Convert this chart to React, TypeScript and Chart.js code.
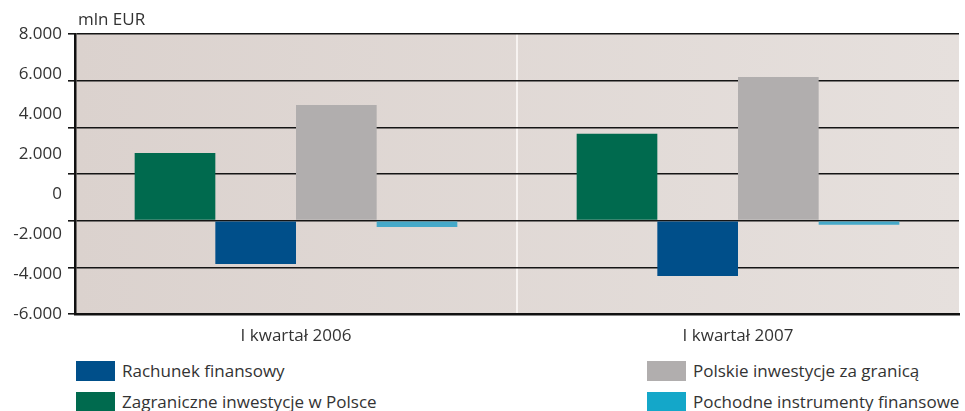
import React, { useEffect, useRef } from "react";
import { Chart, registerables } from "chart.js";

Chart.register(...registerables);

const categories = ["I kwartał 2006", "I kwartał 2007"];
const seriesNames = [
  "Zagraniczne inwestycje w Polsce",
  "Rachunek finansowy",
  "Polskie inwestycje za granicą",
  "Pochodne instrumenty finansowe",
];
const zagraniczne = [2900, 3720];
const rachunek = [-1860, -2370];
const polskie = [4960, 6160];
const pochodne = [-270, -180];
const seriesColors = ["#006a4e", "#004f8a", "#b1aeae", "#45a9c9"];
const legendColors = ["#004f8a", "#006a4e", "#b1aeae", "#14a7c9"];
const tickLabelValues = [8000, 6000, 4000, 2000, 0, -2000, -4000, -6000];
const unitLabel = "mln EUR";

const FONT = "'Open Sans', sans-serif";

const fmt = (v: number) => {
  if (v === 0) return "0";
  const s = Math.abs(v).toString().replace(/\B(?=(\d{3})+(?!\d))/g, ".");
  return (v < 0 ? "-" : "") + s;
};

const bgPlugin = {
  id: "bgPlugin",
  beforeDraw(chart: any) {
    const { ctx, chartArea } = chart;
    if (!chartArea) return;
    const g = ctx.createLinearGradient(chartArea.left, 0, chartArea.right, 0);
    g.addColorStop(0, "#dbd2ce");
    g.addColorStop(1, "#e6e0dd");
    ctx.save();
    ctx.fillStyle = g;
    ctx.fillRect(chartArea.left, chartArea.top, chartArea.right - chartArea.left, chartArea.bottom - chartArea.top);
    ctx.restore();
  },
};

export default function App() {
  const ref = useRef<HTMLCanvasElement>(null);
  useEffect(() => {
    if (!ref.current) return;
    const datasets = [zagraniczne, rachunek, polskie, pochodne].map((d, i) => ({
      label: seriesNames[i],
      data: d,
      backgroundColor: seriesColors[i],
      borderWidth: 0,
      categoryPercentage: 0.73,
      barPercentage: 1,
      yAxisID: "y",
    }));
    const chart = new Chart(ref.current, {
      type: "bar",
      data: { labels: categories, datasets },
      plugins: [bgPlugin],
      options: {
        animation: false,
        responsive: false,
        maintainAspectRatio: false,
        layout: { padding: { top: 34, right: 6, left: 0, bottom: 0 } },
        plugins: { legend: { display: false }, tooltip: { enabled: false } },
        scales: {
          x: {
            offset: true,
            grid: {
              offset: true,
              drawTicks: false,
              lineWidth: 2,
              color: (c: any) => (c.index === 1 ? "#f7f3f1" : "rgba(0,0,0,0)"),
            },
            border: { display: true, color: "#111", width: 2.5 },
            ticks: { color: "#333", font: { family: FONT, size: 17 }, padding: 12 },
            afterFit: (s: any) => { s.height = 36; },
          },
          y: {
            position: "left",
            weight: 0,
            min: -4000,
            max: 8000,
            ticks: { stepSize: 2000, display: false },
            grid: { color: "#151515", lineWidth: 1.6, drawTicks: true, tickLength: 7, tickColor: "#151515" },
            border: { display: true, color: "#111", width: 2.5 },
            afterFit: (s: any) => { s.width = 8; },
          },
          y2: {
            position: "left",
            weight: 1,
            min: -6000,
            max: 8000,
            afterBuildTicks: (s: any) => {
              s.ticks = tickLabelValues.map((v) => ({ value: v }));
            },
            ticks: {
              color: "#333",
              font: { family: FONT, size: 17 },
              padding: 5,
              callback: (v: any) => fmt(Number(v)),
            },
            grid: { display: false, drawTicks: false },
            border: { display: false },
            afterFit: (s: any) => { s.width = 67; },
          },
        },
      },
    });
    return () => chart.destroy();
  }, []);

  const legendItems = [
    { name: "Rachunek finansowy", color: legendColors[0], x: 76, y: 361 },
    { name: "Zagraniczne inwestycje w Polsce", color: legendColors[1], x: 76, y: 392 },
    { name: "Polskie inwestycje za granicą", color: legendColors[2], x: 647, y: 361 },
    { name: "Pochodne instrumenty finansowe", color: legendColors[3], x: 647, y: 392 },
  ];

  return (
    <div style={{ position: "absolute", left: 0, top: 0, width: 965, height: 411, overflow: "hidden", background: "#fff", fontFamily: FONT }}>
      <canvas ref={ref} width={965} height={350} style={{ position: "absolute", left: 0, top: 0, width: 965, height: 350 }} />
      <div style={{ position: "absolute", left: 78, top: 8, fontSize: 17, color: "#333", lineHeight: "22px" }}>{unitLabel}</div>
      {legendItems.map((it) => (
        <div key={it.name} style={{ position: "absolute", left: it.x, top: it.y, height: 20, display: "flex", alignItems: "center" }}>
          <div style={{ width: 39, height: 20, background: it.color, flexShrink: 0 }} />
          <div style={{ marginLeft: 7, fontSize: 17, color: "#333", whiteSpace: "nowrap", lineHeight: "20px" }}>{it.name}</div>
        </div>
      ))}
    </div>
  );
}
